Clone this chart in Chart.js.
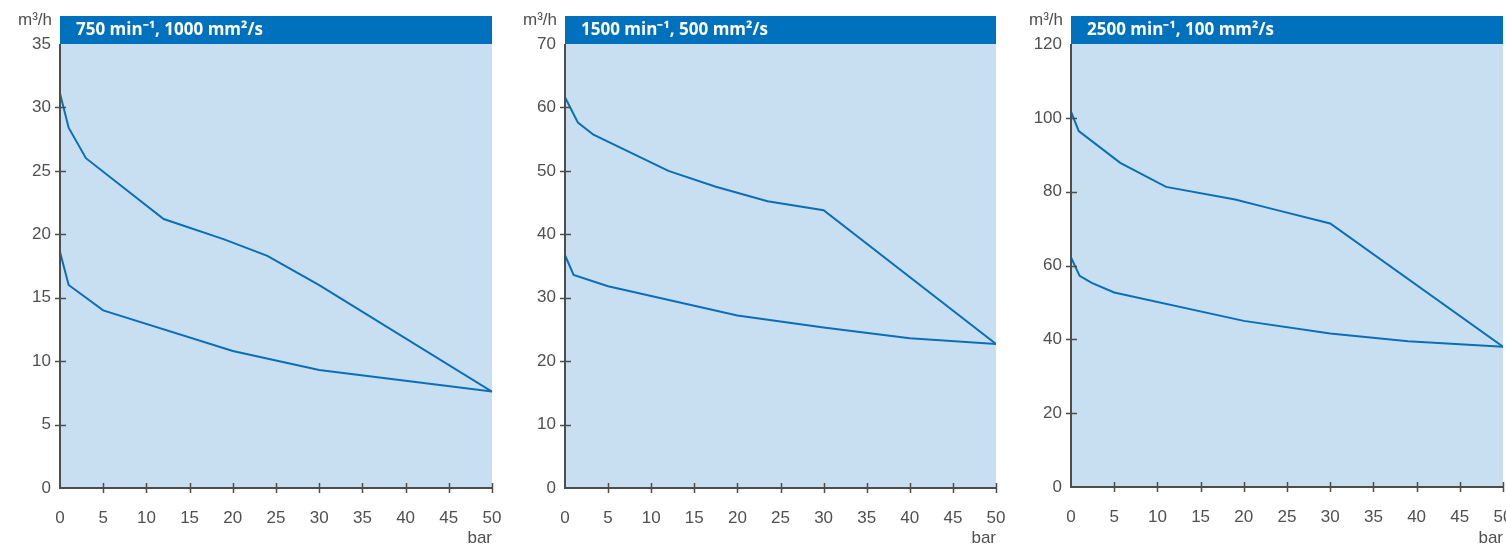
<!DOCTYPE html>
<html>
<head>
<meta charset="utf-8">
<script src="https://cdn.jsdelivr.net/npm/chart.js@4"></script>
<style>
  html, body { margin: 0; padding: 0; background: #fff; overflow: hidden; }
  body { position: relative; width: 1506px; height: 546px; }
  canvas { position: absolute; top: 0; }
</style>
</head>
<body>
<canvas id="chart750" width="510" height="546" style="left:0px"></canvas>
<canvas id="chart1500" width="500" height="546" style="left:510px"></canvas>
<canvas id="chart2500" width="520" height="546" style="left:1010px"></canvas>
<script>
// Data (x = bar, y = m³/h)
const titles = ['750 min⁻¹, 1000 mm²/s', '1500 min⁻¹, 500 mm²/s', '2500 min⁻¹, 100 mm²/s'];
const yMax = [35, 70, 120];
const yStep = [5, 10, 20];
const xMax = 50;
const xStep = 5;

// 750 min-1, 1000 mm2/s
const bar750High = [0, 1, 3, 12, 19, 24, 30, 50];
const flow750High = [31.1, 28.4, 26.0, 21.2, 19.6, 18.3, 16.0, 7.6];
const bar750Low = [0, 1, 5, 20, 30, 50];
const flow750Low = [18.6, 16.0, 14.0, 10.8, 9.3, 7.6];

// 1500 min-1, 500 mm2/s
const bar1500High = [0, 1.5, 3.3, 12, 17.5, 23.5, 30, 50];
const flow1500High = [61.6, 57.6, 55.7, 50.0, 47.5, 45.2, 43.8, 22.7];
const bar1500Low = [0, 1, 5, 20, 30, 40, 50];
const flow1500Low = [36.7, 33.6, 31.8, 27.2, 25.3, 23.6, 22.7];

// 2500 min-1, 100 mm2/s
const bar2500High = [0, 0.9, 5.7, 11, 19, 23.5, 30, 50];
const flow2500High = [101.7, 96.4, 87.8, 81.3, 77.9, 75.2, 71.4, 38.0];
const bar2500Low = [0, 1, 2.4, 5, 20, 30, 39, 45, 50];
const flow2500Low = [62.2, 57.2, 55.3, 52.7, 45.0, 41.6, 39.5, 38.7, 38.0];

const BAND = '#0071bc';
const PLOT_BG = '#c8dff2';
const LINE = '#0a6fb6';
const AXIS = '#4d4d4d';
const TEXT = '#505050';
const FONT = '"Liberation Sans", Arial, sans-serif';

function toPoints(xs, ys) {
    return xs.map((x, i) => ({ x: x, y: ys[i] }));
}

// Blue panel, title band, axes with crossing ticks and unit labels
const panelPlugin = {
    id: 'panel',
    beforeDraw(chart, args, opts) {
        const { ctx, chartArea: a } = chart;
        ctx.save();
        ctx.fillStyle = PLOT_BG;
        ctx.fillRect(a.left, a.top, a.right - a.left, a.bottom - a.top);
        ctx.fillStyle = BAND;
        ctx.fillRect(a.left, 16, a.right - a.left, a.top - 16);
        ctx.fillStyle = '#ffffff';
        ctx.font = 'bold 17px "Open Sans", sans-serif';
        ctx.textBaseline = 'middle';
        ctx.textAlign = 'left';
        ctx.fillText(opts.title, a.left + 16, 30.5);
        ctx.restore();
    },
    afterDraw(chart) {
        const { ctx, chartArea: a, scales } = chart;
        ctx.save();
        ctx.strokeStyle = AXIS;
        ctx.lineWidth = 2;
        ctx.beginPath();
        ctx.moveTo(a.left, a.top);
        ctx.lineTo(a.left, a.bottom);
        ctx.lineTo(a.right, a.bottom);
        ctx.stroke();

        ctx.lineWidth = 1.5;
        ctx.beginPath();
        scales.y.ticks.forEach(t => {
            if (t.value <= 0 || t.value >= scales.y.max) return;
            const y = Math.round(scales.y.getPixelForValue(t.value)) + 0.5;
            ctx.moveTo(a.left - 5, y);
            ctx.lineTo(a.left + 6, y);
        });
        scales.x.ticks.forEach(t => {
            if (t.value <= 0) return;
            const x = Math.round(scales.x.getPixelForValue(t.value)) + 0.5;
            ctx.moveTo(x, a.bottom - 5);
            ctx.lineTo(x, a.bottom + 5);
        });
        ctx.stroke();

        ctx.fillStyle = TEXT;
        ctx.font = '17px ' + FONT;
        ctx.textBaseline = 'middle';
        ctx.textAlign = 'right';
        ctx.fillText('m³/h', a.left - 8, 20);
        ctx.fillText('bar', a.right, 538);
        ctx.restore();
    }
};

function makeChart(id, idx, high, low, axisWidth, axisHeight, rightPad) {
    const ctx = document.getElementById(id).getContext('2d');
    return new Chart(ctx, {
        type: 'line',
        data: {
            datasets: [high, low].map(points => ({
                data: points,
                borderColor: LINE,
                borderWidth: 2,
                pointRadius: 0,
                tension: 0,
                fill: false
            }))
        },
        options: {
            responsive: false,
            animation: false,
            layout: { padding: { top: 44, right: rightPad, bottom: 0, left: 0 } },
            plugins: {
                legend: { display: false },
                tooltip: { enabled: false },
                panel: { title: titles[idx] }
            },
            scales: {
                x: {
                    type: 'linear',
                    min: 0,
                    max: xMax,
                    grid: { display: false, drawTicks: false },
                    border: { display: false },
                    ticks: { stepSize: xStep, color: TEXT, font: { family: FONT, size: 17 }, padding: 20, maxRotation: 0 },
                    afterFit: s => {
                        s.height = axisHeight;
                        s.paddingLeft = 0;
                        s.paddingRight = 0;
                    }
                },
                y: {
                    min: 0,
                    max: yMax[idx],
                    grid: { display: false, drawTicks: false },
                    border: { display: false },
                    ticks: { stepSize: yStep[idx], color: TEXT, font: { family: FONT, size: 17 }, padding: 9 },
                    afterFit: s => { s.width = axisWidth; }
                }
            }
        },
        plugins: [panelPlugin]
    });
}

makeChart('chart750', 0, toPoints(bar750High, flow750High), toPoints(bar750Low, flow750Low), 60, 58, 18);
makeChart('chart1500', 1, toPoints(bar1500High, flow1500High), toPoints(bar1500Low, flow1500Low), 55, 58, 14);
makeChart('chart2500', 2, toPoints(bar2500High, flow2500High), toPoints(bar2500Low, flow2500Low), 61, 59, 27);
</script>
</body>
</html>
